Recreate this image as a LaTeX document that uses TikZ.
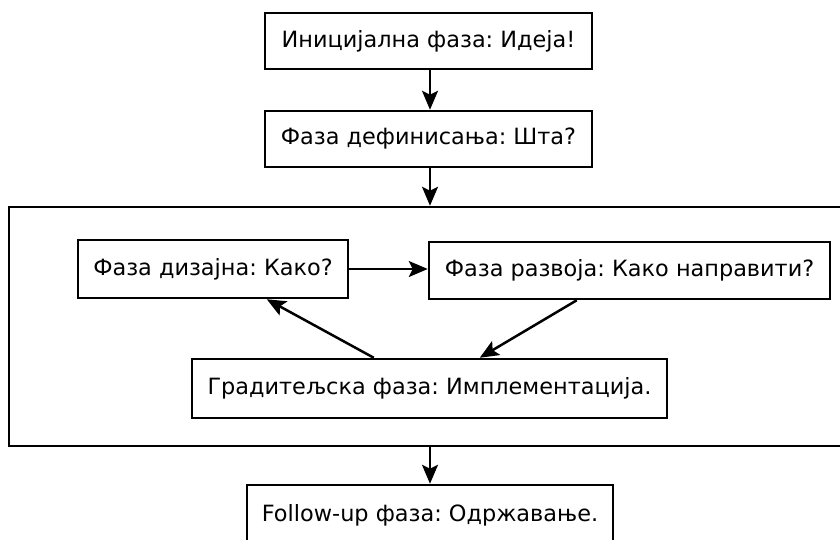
\documentclass[tikz,border=0pt]{standalone}
\usepackage{fontspec}
\setmainfont{DejaVu Sans}
\frenchspacing
\usetikzlibrary{arrows.meta,calc}

\tikzset{
  phase/.style={draw=black, line width=2.5pt, rectangle, inner sep=0pt,
    font=\fontsize{22.4}{26}\selectfont},
  flow/.style={line width=2.5pt, -{Stealth[length=19pt,width=16pt,inset=4pt]}},
  group/.style={draw=black, line width=2.5pt, rectangle, inner sep=0pt}
}

\begin{document}
\begin{tikzpicture}[x=1pt, y=-1pt]
  \useasboundingbox (0,0) rectangle (840,539);
  \clip (0,0) rectangle (840,539);
  \fill[white] (0,0) rectangle (840,539);

  % outer phases
  \node[phase, minimum width=327pt, minimum height=56pt] (init) at (428.5,41) {Иницијална фаза: Идеја!};
  \node[phase, minimum width=327pt, minimum height=56pt] (def) at (428.5,139) {Фаза дефинисања: Шта?};

  % iterative group
  \node[group, minimum width=842pt, minimum height=239pt] (loop) at (430,326.5) {};
  \node[phase, minimum width=270pt, minimum height=58pt] (design) at (213,269) {Фаза дизајна: Како?};
  \node[phase, minimum width=401pt, minimum height=57pt] (dev) at (629.5,270.5) {Фаза развоја: Како направити?};
  \node[phase, minimum width=475pt, minimum height=59pt] (impl) at (429.5,388.5) {Градитељска фаза: Имплементација.};

  \node[phase, minimum width=366pt, minimum height=60pt] (follow) at (430,515) {Follow-up фаза: Одржавање.};

  % connectors
  \draw[flow] (init.south -| 430,0) -- (def.north -| 430,0);
  \draw[flow] (def.south -| 430,0) -- (loop.north);
  \draw[flow] (design.east) -- (dev.west |- design.east);
  \draw[flow] ($(dev.south west)+(149,0)$) -- ($(impl.north west)+(289,0)$);
  \draw[flow] ($(impl.north west)+(183,0)$) -- ($(design.south west)+(190,0)$);
  \draw[flow] (loop.south) -- (follow.north);
\end{tikzpicture}
\end{document}
